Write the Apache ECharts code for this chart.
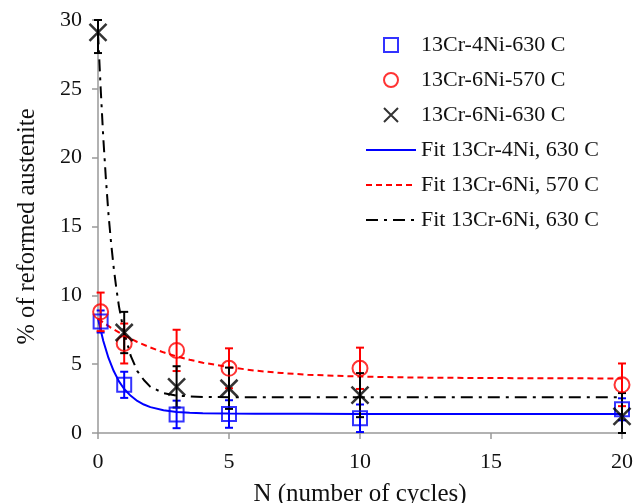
<!DOCTYPE html>
<html>
<head>
<meta charset="utf-8">
<script src="https://cdn.jsdelivr.net/npm/echarts@6/dist/echarts.min.js"></script>
<style>html,body{margin:0;padding:0;background:#fff}#c{width:644px;height:503px}</style>
</head>
<body>
<div id="c"></div>
<script>
// ---- data ----
const xTicks = [0, 5, 10, 15, 20];
const yTicks = [0, 5, 10, 15, 20, 25, 30];

const cr4N   = [0.1, 1, 3, 5, 10, 20];
const cr4Y   = [8.1, 3.5, 1.35, 1.38, 1.07, 1.72];
const cr4Err = [0.8, 0.95, 1.0, 1.0, 1.0, 0.8];

const cr6lowN   = [0.1, 1, 3, 5, 10, 20];
const cr6lowY   = [8.8, 6.5, 6.0, 4.7, 4.7, 3.5];
const cr6lowErr = [1.4, 1.45, 1.5, 1.45, 1.5, 1.55];

const cr6hiN   = [0, 1, 3, 5, 10, 20];
const cr6hiY   = [29.1, 7.3, 3.35, 3.25, 2.75, 1.2];
const cr6hiErr = [1.5, 1.5, 1.5, 1.5, 1.6, 1.7];

const fitCr4N = [0, 0.2, 0.4, 0.6, 0.8, 1, 1.25, 1.5, 1.75, 2, 2.5, 3, 3.5, 4, 5, 6, 8, 10, 15, 20];
const fitCr4Y = [8.3, 6.7, 5.45, 4.5, 3.75, 3.2, 2.7, 2.33, 2.07, 1.88, 1.65, 1.53, 1.47, 1.43, 1.41, 1.4, 1.39, 1.38, 1.38, 1.38];

const fitCr6lowN = [0, 0.5, 1, 1.5, 2, 2.5, 3, 3.5, 4, 5, 6, 7, 8, 10, 12, 15, 20];
const fitCr6lowY = [8.3, 7.64, 7.09, 6.61, 6.21, 5.86, 5.57, 5.32, 5.11, 4.78, 4.53, 4.36, 4.23, 4.1, 4.03, 3.99, 3.96];

const fitCr6hiN = [0, 0.1, 0.2, 0.3, 0.4, 0.5, 0.6, 0.7, 0.8, 0.9, 1, 1.25, 1.5, 1.75, 2, 2.5, 3, 3.5, 4, 5, 10, 20];
const fitCr6hiY = [29.1, 25.1, 21.5, 18.5, 15.9, 13.8, 12.0, 10.5, 9.2, 8.2, 7.3, 5.6, 4.5, 3.85, 3.35, 2.9, 2.72, 2.66, 2.62, 2.6, 2.6, 2.6];

const names = ['13Cr-4Ni-630 C', '13Cr-6Ni-570 C', '13Cr-6Ni-630 C',
               'Fit 13Cr-4Ni, 630 C', 'Fit 13Cr-6Ni, 570 C', 'Fit 13Cr-6Ni, 630 C'];

// ---- build ----
const FONT = 'Liberation Serif';
const TXT = '#111';
const Y_MIN = 0, Y_MAX = 30;
const zip = (a, b) => a.map((v, i) => [v, b[i]]);
const errData = (n, y, e) => n.map((v, i) => [v, y[i] - e[i], y[i] + e[i]]);

function errRender(color) {
  return function (params, api) {
    const x = api.value(0);
    const lo = Math.max(api.value(1), Y_MIN);
    const hi = Math.min(api.value(2), Y_MAX);
    const pL = api.coord([x, lo]);
    const pH = api.coord([x, hi]);
    const w = 4;
    const st = { stroke: color, lineWidth: 2 };
    return {
      type: 'group',
      children: [
        { type: 'line', shape: { x1: pH[0], y1: pH[1], x2: pL[0], y2: pL[1] }, style: st },
        { type: 'line', shape: { x1: pH[0] - w, y1: pH[1], x2: pH[0] + w, y2: pH[1] }, style: st },
        { type: 'line', shape: { x1: pL[0] - w, y1: pL[1], x2: pL[0] + w, y2: pL[1] }, style: st }
      ]
    };
  };
}

const blue = '#0000ff', red = '#ff0000', black = '#000000';
const hideSym = { opacity: 0 };

const chart = echarts.init(document.getElementById('c'), null, { renderer: 'canvas' });
chart.setOption({
  animation: false,
  backgroundColor: '#fff',
  grid: { left: 98, right: 22, top: 20, bottom: 70, containLabel: false, outerBoundsMode: 'none' },
  xAxis: {
    type: 'value', min: xTicks[0], max: xTicks[xTicks.length - 1], interval: 5,
    name: 'N (number of cycles)', nameLocation: 'middle', nameGap: 49,
    nameTextStyle: { fontFamily: FONT, fontSize: 25, color: TXT },
    axisLine: { lineStyle: { color: '#999', width: 1.5 } },
    axisTick: { show: true, inside: false, length: 6, lineStyle: { color: '#999', width: 1.5 } },
    axisLabel: { fontFamily: FONT, fontSize: 22, color: TXT, margin: 18 },
    splitLine: { show: false }
  },
  yAxis: {
    type: 'value', min: Y_MIN, max: Y_MAX, interval: 5,
    name: '% of reformed austenite', nameLocation: 'middle', nameGap: 58, nameRotate: 90,
    nameTextStyle: { fontFamily: FONT, fontSize: 24.5, color: TXT },
    axisLine: { show: true, lineStyle: { color: '#999', width: 1.5 } },
    axisTick: { show: true, inside: false, length: 6, lineStyle: { color: '#999', width: 1.5 } },
    axisLabel: { fontFamily: FONT, fontSize: 22, color: TXT, margin: 16 },
    splitLine: { show: false }
  },
  legend: {
    orient: 'vertical', left: 360, top: 29,
    itemWidth: 50, itemHeight: 14, itemGap: 13,
    textStyle: { fontFamily: FONT, fontSize: 22, color: TXT, lineHeight: 22 },
    data: [
      { name: names[0], icon: 'path://M0,0H10V10H0Z' },
      { name: names[1], icon: 'circle' },
      { name: names[2], icon: 'path://M0,0L10,10M10,0L0,10' },
      { name: names[3], itemStyle: hideSym },
      { name: names[4], itemStyle: hideSym },
      { name: names[5], itemStyle: hideSym }
    ]
  },
  series: [
    { name: names[3], type: 'line', symbol: 'none', smooth: false,
      data: zip(fitCr4N, fitCr4Y), lineStyle: { color: blue, width: 2 }, itemStyle: { color: blue }, z: 2 },
    { name: names[4], type: 'line', symbol: 'none', smooth: false,
      data: zip(fitCr6lowN, fitCr6lowY), lineStyle: { color: red, width: 2, type: [6, 4] }, itemStyle: { color: red }, z: 2 },
    { name: names[5], type: 'line', symbol: 'none', smooth: false,
      data: zip(fitCr6hiN, fitCr6hiY), lineStyle: { color: black, width: 2, type: [12, 6, 3, 6] }, itemStyle: { color: black }, z: 2 },

    { type: 'custom', renderItem: errRender(blue), data: errData(cr4N, cr4Y, cr4Err), encode: { x: 0, y: [1, 2] }, z: 3, silent: true },
    { type: 'custom', renderItem: errRender(red), data: errData(cr6lowN, cr6lowY, cr6lowErr), encode: { x: 0, y: [1, 2] }, z: 3, silent: true },
    { type: 'custom', renderItem: errRender(black), data: errData(cr6hiN, cr6hiY, cr6hiErr), encode: { x: 0, y: [1, 2] }, z: 3, silent: true },

    { name: names[0], type: 'scatter', symbol: 'path://M0,0H10V10H0Z', symbolSize: 14, symbolKeepAspect: true,
      data: zip(cr4N, cr4Y), itemStyle: { color: 'rgba(0,0,0,0)', borderColor: blue, borderWidth: 2 }, z: 4 },
    { name: names[1], type: 'scatter', symbol: 'circle', symbolSize: 15,
      data: zip(cr6lowN, cr6lowY), itemStyle: { color: 'rgba(0,0,0,0)', borderColor: red, borderWidth: 2 }, z: 4 },
    { name: names[2], type: 'scatter', symbol: 'path://M0,0L10,10M10,0L0,10', symbolSize: 17, symbolKeepAspect: true,
      data: zip(cr6hiN, cr6hiY), itemStyle: { color: 'rgba(0,0,0,0)', borderColor: black, borderWidth: 2.5 }, z: 4 }
  ]
});
</script>
</body>
</html>
